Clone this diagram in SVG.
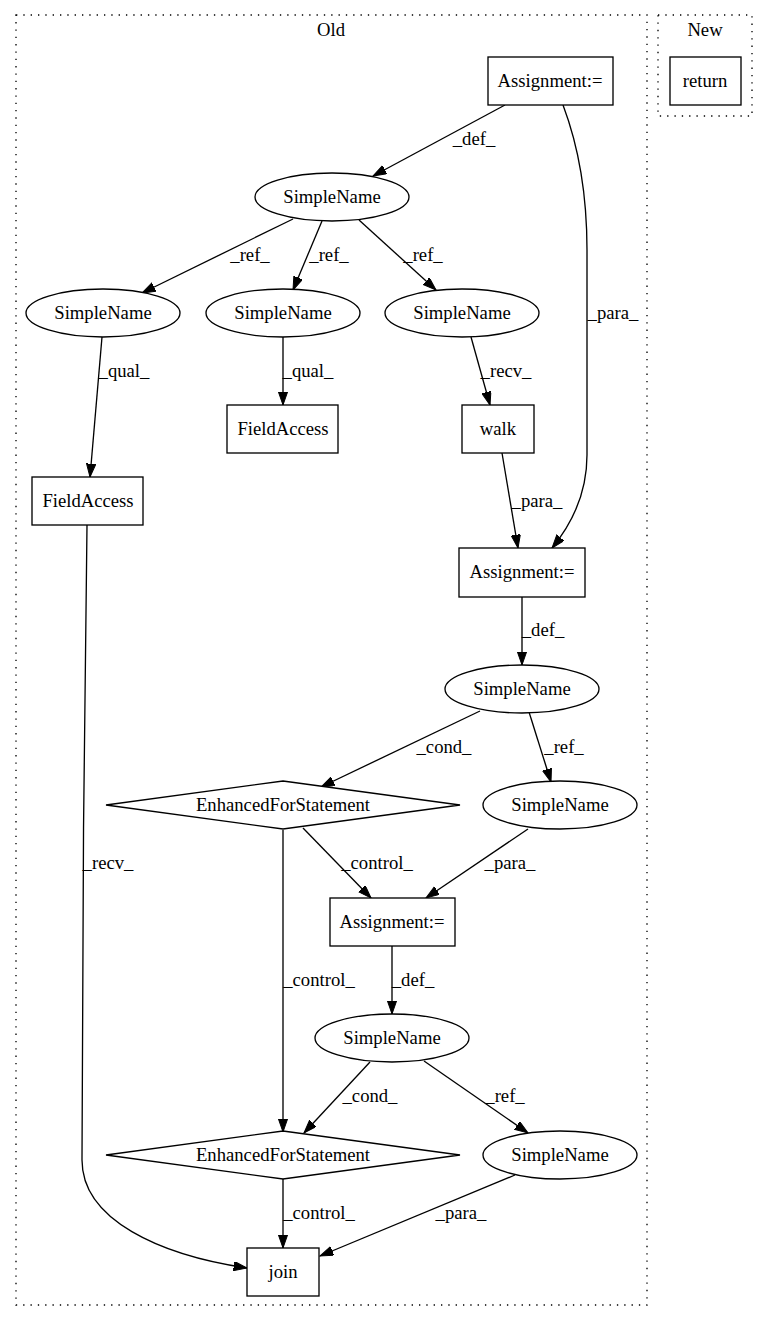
<svg xmlns="http://www.w3.org/2000/svg" width="767" height="1320" viewBox="0 0 767 1320" font-family="'Liberation Serif', serif" font-size="18.67">
<style>
text{font-family:'Liberation Serif',serif;font-size:18.67px;fill:#000;text-anchor:middle}
.n{fill:#fff;stroke:#000;stroke-width:1.33}
.c{fill:none;stroke:#000;stroke-width:1.33;stroke-dasharray:1.33,6}
.e{fill:none;stroke:#000;stroke-width:1.33;marker-end:url(#a)}
</style>
<defs>
<marker id="a" markerUnits="userSpaceOnUse" markerWidth="14" markerHeight="10" refX="13.3" refY="4.67" orient="auto">
<path d="M0,0 L13.3,4.67 L0,9.33 z" fill="#000" stroke="#000" stroke-width="1"/>
</marker>
</defs>
<rect width="767" height="1320" fill="#fff"/>
<g id="cluster_old">
<rect class="c" x="16" y="15" width="631" height="1290"/>
<text x="331" y="36">Old</text>
</g>
<g id="cluster_new">
<rect class="c" x="658" y="15" width="94" height="101"/>
<text x="705" y="36">New</text>
</g>
<g id="edges">
<path class="e" d="M505,105 L373,176"/>
<path class="e" d="M563,105 C580,150 587,200 587,250 L587,455 C587,490 575,520 552,548"/>
<path class="e" d="M293,219 L142,293"/>
<path class="e" d="M322,221 L293,290"/>
<path class="e" d="M359,220 L436,290"/>
<path class="e" d="M102,337 L90,477"/>
<path class="e" d="M283,337 L283,405"/>
<path class="e" d="M471,337 L490,405"/>
<path class="e" d="M502,453 L518,548"/>
<path class="e" d="M522,597 L522,665"/>
<path class="e" d="M480,711 L321,787"/>
<path class="e" d="M529,712 L551,782"/>
<path class="e" d="M303,828 L371,898"/>
<path class="e" d="M528,829 L426,898"/>
<path class="e" d="M283,830 L283,1132"/>
<path class="e" d="M392,946 L392,1014"/>
<path class="e" d="M370,1062 L304,1133"/>
<path class="e" d="M424,1061 L528,1133"/>
<path class="e" d="M283,1179 L283,1248"/>
<path class="e" d="M515,1175 L320,1256"/>
<path class="e" d="M87,525 C84,700 82,1000 82,1160 C82,1220 160,1255 247,1268"/>
<text x="474" y="145">_def_</text>
<text x="613" y="319">_para_</text>
<text x="250" y="261">_ref_</text>
<text x="329" y="261">_ref_</text>
<text x="423" y="261">_ref_</text>
<text x="124" y="377">_qual_</text>
<text x="308" y="377">_qual_</text>
<text x="506" y="377">_recv_</text>
<text x="537" y="507">_para_</text>
<text x="543" y="636">_def_</text>
<text x="444" y="753">_cond_</text>
<text x="564" y="753">_ref_</text>
<text x="377" y="869">_control_</text>
<text x="510" y="869">_para_</text>
<text x="108" y="869">_recv_</text>
<text x="319" y="986">_control_</text>
<text x="413" y="986">_def_</text>
<text x="370" y="1102">_cond_</text>
<text x="505" y="1102">_ref_</text>
<text x="319" y="1219">_control_</text>
<text x="461" y="1219">_para_</text>
</g>
<g id="assign1"><rect class="n" x="488" y="57" width="125" height="48"/><text x="550" y="87">Assignment:=</text></g>
<g id="return"><rect class="n" x="670" y="57" width="71" height="48"/><text x="705" y="87">return</text></g>
<g id="sn1"><ellipse class="n" cx="332" cy="197" rx="77" ry="24"/><text x="332" y="203">SimpleName</text></g>
<g id="sn2"><ellipse class="n" cx="103" cy="313" rx="77" ry="24"/><text x="103" y="319">SimpleName</text></g>
<g id="sn3"><ellipse class="n" cx="283" cy="313" rx="77" ry="24"/><text x="283" y="319">SimpleName</text></g>
<g id="sn4"><ellipse class="n" cx="462" cy="313" rx="77" ry="24"/><text x="462" y="319">SimpleName</text></g>
<g id="fa1"><rect class="n" x="227" y="405" width="111" height="48"/><text x="283" y="435">FieldAccess</text></g>
<g id="walk"><rect class="n" x="462" y="405" width="72" height="48"/><text x="498" y="435">walk</text></g>
<g id="fa2"><rect class="n" x="32" y="477" width="111" height="48"/><text x="88" y="507">FieldAccess</text></g>
<g id="assign2"><rect class="n" x="459" y="548" width="126" height="49"/><text x="522" y="578">Assignment:=</text></g>
<g id="sn5"><ellipse class="n" cx="522" cy="689" rx="77" ry="24"/><text x="522" y="695">SimpleName</text></g>
<g id="efs1"><polygon class="n" points="283,781 460,805 283,829 106,805"/><text x="283" y="811">EnhancedForStatement</text></g>
<g id="sn6"><ellipse class="n" cx="560" cy="805" rx="77" ry="24"/><text x="560" y="811">SimpleName</text></g>
<g id="assign3"><rect class="n" x="330" y="898" width="125" height="48"/><text x="392" y="928">Assignment:=</text></g>
<g id="sn7"><ellipse class="n" cx="392" cy="1038" rx="77" ry="24"/><text x="392" y="1044">SimpleName</text></g>
<g id="efs2"><polygon class="n" points="283,1131 460,1155 283,1179 106,1155"/><text x="283" y="1161">EnhancedForStatement</text></g>
<g id="sn8"><ellipse class="n" cx="560" cy="1155" rx="77" ry="24"/><text x="560" y="1161">SimpleName</text></g>
<g id="join"><rect class="n" x="247" y="1248" width="72" height="48"/><text x="283" y="1278">join</text></g>
</svg>
